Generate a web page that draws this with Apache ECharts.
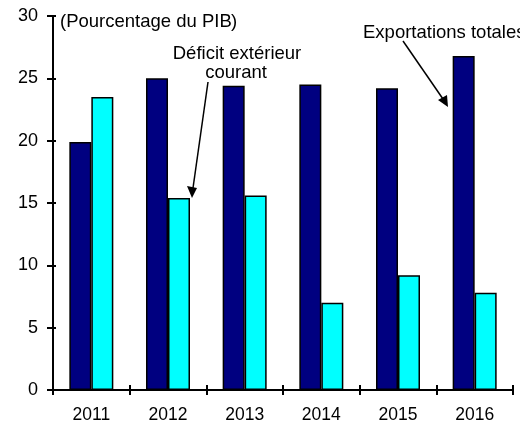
<!DOCTYPE html>
<html>
<head>
<meta charset="utf-8">
<script src="https://cdn.jsdelivr.net/npm/echarts@6/dist/echarts.min.js"></script>
<style>html,body{margin:0;padding:0;background:#fff}#c{width:520px;height:424px}</style>
</head>
<body>
<div id="c"></div>
<script>
var years = ['2011', '2012', '2013', '2014', '2015', '2016'];
var exportations = [19.9, 25.0, 24.4, 24.5, 24.2, 26.8];
var deficit = [23.5, 15.4, 15.6, 7.0, 9.2, 7.8];
var yTicks = [0, 5, 10, 15, 20, 25, 30];

var FONT = '"Liberation Sans", Arial, sans-serif';
var AF = '18.5px ' + FONT;
var chart = echarts.init(document.getElementById('c'));
var barStyle = function (c) { return { color: c, borderColor: '#000', borderWidth: 1.5 }; };
chart.setOption({
  animation: false,
  backgroundColor: '#fff',
  grid: { left: 53, right: 7, top: 16, bottom: 31 },
  xAxis: [{
    type: 'category', data: years, position: 'bottom',
    axisLine: { lineStyle: { color: '#000', width: 2 } },
    axisTick: { show: true, length: 5, lineStyle: { color: '#000', width: 2 } },
    axisLabel: { color: '#000', fontFamily: FONT, fontSize: 17.5, margin: 16 }
  }, {
    type: 'category', data: years, position: 'bottom',
    axisLine: { show: false },
    axisTick: { show: true, inside: true, length: 5, lineStyle: { color: '#000', width: 2 } },
    axisLabel: { show: false }
  }],
  yAxis: [{
    type: 'value', min: yTicks[0], max: yTicks[yTicks.length - 1], interval: 5,
    axisLine: { show: true, lineStyle: { color: '#000', width: 2 } },
    axisTick: { show: true, length: 6, lineStyle: { color: '#000', width: 2 } },
    axisLabel: { color: '#000', fontFamily: FONT, fontSize: 18, margin: 15 },
    splitLine: { show: false }
  }, {
    type: 'value', min: yTicks[0], max: yTicks[yTicks.length - 1], interval: 5, position: 'left',
    axisLine: { show: false },
    axisTick: { show: true, inside: true, length: 3, lineStyle: { color: '#000', width: 2 } },
    axisLabel: { show: false },
    splitLine: { show: false }
  }],
  series: [{
    type: 'bar', name: 'Exportations totales', data: exportations,
    barWidth: 22, barGap: '0%', itemStyle: barStyle('#000080')
  }, {
    type: 'bar', name: 'Déficit extérieur courant', data: deficit,
    barWidth: 22, barGap: '0%', itemStyle: barStyle('#00FFFF')
  }],
  graphic: [
    { type: 'text', x: 60, y: 22, style: { text: '(Pourcentage du PIB', font: AF, fill: '#000', textVerticalAlign: 'middle' } },
    { type: 'text', x: 231, y: 22, style: { text: ')', font: AF, fill: '#000', textVerticalAlign: 'middle' } },
    { type: 'text', x: 237, y: 54, style: { text: 'Déficit extérieur', font: AF, fill: '#000', textAlign: 'center', textVerticalAlign: 'middle' } },
    { type: 'text', x: 236, y: 73, style: { text: 'courant', font: AF, fill: '#000', textAlign: 'center', textVerticalAlign: 'middle' } },
    { type: 'text', x: 363, y: 33, style: { text: 'Exportations totales', font: AF, fill: '#000', textVerticalAlign: 'middle' } },
    { type: 'line', shape: { x1: 208, y1: 82, x2: 193, y2: 188 }, style: { stroke: '#000', lineWidth: 1.5 } },
    { type: 'polygon', shape: { points: [[192, 198], [187, 186], [197, 188]] }, style: { fill: '#000' } },
    { type: 'line', shape: { x1: 403, y1: 41, x2: 443, y2: 99 }, style: { stroke: '#000', lineWidth: 1.5 } },
    { type: 'polygon', shape: { points: [[448, 107], [438, 100], [447, 95]] }, style: { fill: '#000' } }
  ]
});
</script>
</body>
</html>
